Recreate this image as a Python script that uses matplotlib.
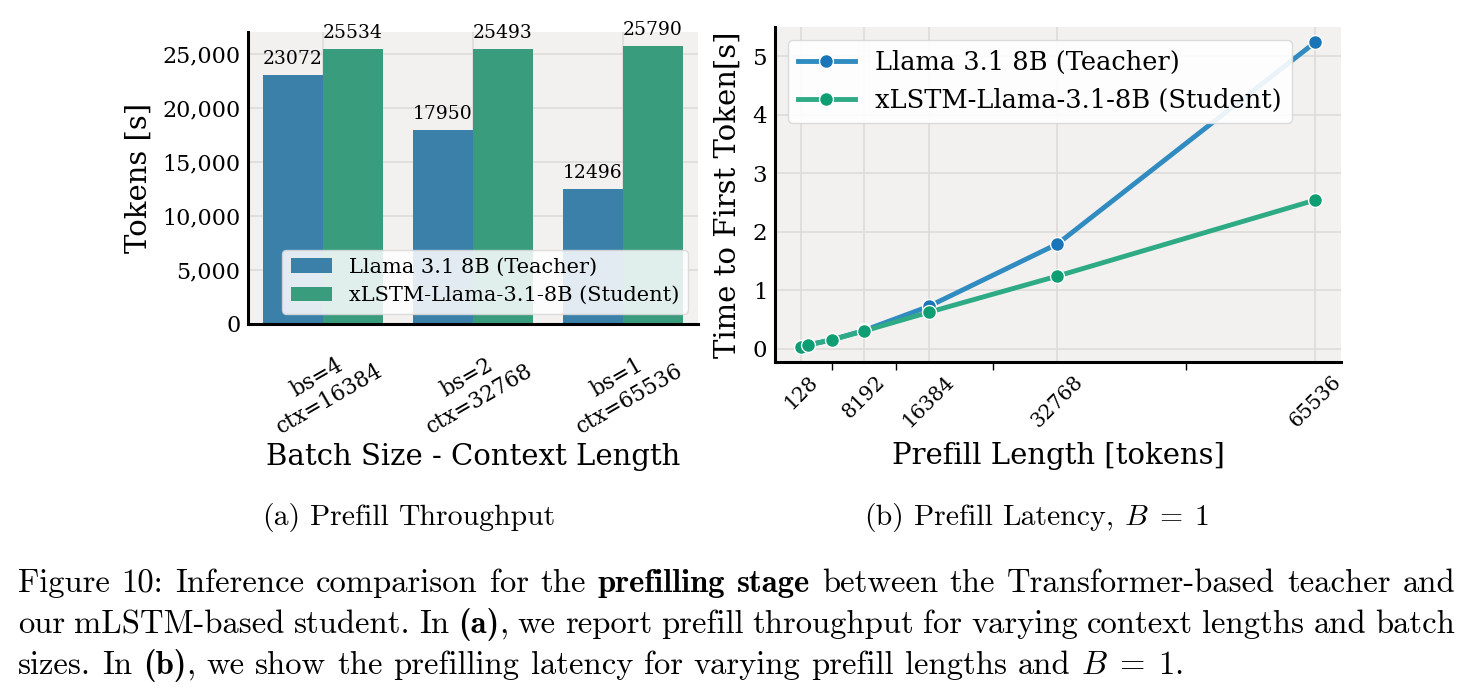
import matplotlib
matplotlib.use("Agg")
import matplotlib.pyplot as plt
from matplotlib.ticker import FuncFormatter, FixedLocator
import numpy as np

# ---------------- data ----------------
categories = ["bs=4\nctx=16384", "bs=2\nctx=32768", "bs=1\nctx=65536"]
teacher_tp = [23072, 17950, 12496]
student_tp = [25534, 25493, 25790]

prefill_len = [128, 1024, 4096, 8192, 16384, 32768, 65536]
teacher_ttft = [0.03, 0.06, 0.15, 0.31, 0.72, 1.79, 5.24]
student_ttft = [0.03, 0.06, 0.15, 0.30, 0.62, 1.24, 2.54]
xtick_vals = [128, 8192, 16384, 32768, 65536]

teacher_name = "Llama 3.1 8B (Teacher)"
student_name = "xLSTM-Llama-3.1-8B (Student)"

# ---------------- style ----------------
plt.rcParams['font.family'] = ['DejaVu Serif']
plt.rcParams['mathtext.fontset'] = 'cm'
BG = '#f2f1f0'
GRID = '#dddcdb'
bar_blue = '#3b80a8'
bar_green = '#389c7d'
line_blue = '#2f8bc0'
line_green = '#2eab85'
mk_blue = '#1a74b8'
mk_green = '#0f9e74'

W, H = 1472, 698
fig = plt.figure(figsize=(W / 100, H / 100), dpi=100)

def ax_rect(x0, y0, x1, y1):
    return [x0 / W, 1 - y1 / H, (x1 - x0) / W, (y1 - y0) / H]

# ---------------- (a) bar chart ----------------
ax1 = fig.add_axes(ax_rect(248, 32, 698, 324))
ax1.set_facecolor(BG)
x = np.arange(len(categories))
bw = 0.4
b1 = ax1.bar(x - bw / 2, teacher_tp, width=bw, color=bar_blue, label=teacher_name, zorder=2)
b2 = ax1.bar(x + bw / 2, student_tp, width=bw, color=bar_green, label=student_name, zorder=2)
ax1.bar_label(b1, padding=5, fontsize=13.5)
ax1.bar_label(b2, padding=5, fontsize=13.5)
ax1.set_xlim(-0.5, 2.5)
ax1.set_ylim(0, max(max(teacher_tp), max(student_tp)) * 1.05)
ax1.set_xticks(x)
ax1.set_xticklabels(categories, rotation=30, ha='center', fontsize=15.5)
ax1.yaxis.set_major_formatter(FuncFormatter(lambda v, p: f"{v:,.0f}"))
ax1.tick_params(axis='y', length=0, pad=5.5, labelsize=16)
ax1.tick_params(axis='x', length=0, pad=10)
ax1.grid(True, color=GRID, lw=1.2, zorder=0)
ax1.set_axisbelow(True)
for s in ['top', 'right']:
    ax1.spines[s].set_visible(False)
for s in ['left', 'bottom']:
    ax1.spines[s].set_linewidth(2.2)
    ax1.spines[s].set_color('black')
ax1.set_ylabel("Tokens [s]", fontsize=21, labelpad=7)
ax1.set_xlabel("Batch Size - Context Length", fontsize=21, labelpad=3)
leg1 = ax1.legend(loc='lower right', fontsize=15, framealpha=0.85,
                  edgecolor='#d8d8d8', labelspacing=0.45)

# ---------------- (b) line chart ----------------
ax2 = fig.add_axes(ax_rect(775, 27, 1341, 362))
ax2.set_facecolor(BG)
ax2.plot(prefill_len, teacher_ttft, color=line_blue, lw=3.5, marker='o', ms=10,
         mfc=mk_blue, mec='white', mew=1.0, label=teacher_name, zorder=3)
ax2.plot(prefill_len, student_ttft, color=line_green, lw=3.5, marker='o', ms=10,
         mfc=mk_green, mec='white', mew=1.0, label=student_name, zorder=4)
ax2.set_xticks(xtick_vals)
ax2.set_xticklabels([str(v) for v in xtick_vals], rotation=45, fontsize=14.5)
mids = [(a + b) / 2 for a, b in zip(xtick_vals[:-1], xtick_vals[1:])]
ax2.xaxis.set_minor_locator(FixedLocator(mids))
ax2.tick_params(axis='x', which='major', length=0, pad=7)
ax2.tick_params(axis='x', which='minor', length=6, width=1, color='black', direction='out')
ax2.tick_params(axis='y', length=0, pad=5.5, labelsize=16.5)
ax2.grid(True, which='major', color=GRID, lw=1.2, zorder=0)
ax2.set_axisbelow(True)
for s in ['top', 'right']:
    ax2.spines[s].set_visible(False)
for s in ['left', 'bottom']:
    ax2.spines[s].set_linewidth(2.2)
    ax2.spines[s].set_color('black')
ax2.set_ylabel("Time to First Token[s]", fontsize=21, labelpad=8)
ax2.set_xlabel("Prefill Length [tokens]", fontsize=21, labelpad=8)
leg2 = ax2.legend(loc='upper left', fontsize=18.5, framealpha=0.9,
                  edgecolor='#d8d8d8', handlelength=2.2, labelspacing=0.5)

# ---------------- captions (LaTeX-like text) ----------------
renderer = fig.canvas.get_renderer()
REG, BOLD = 'cmr10', 'cmb10'
MATH_B1 = r"$B\;=\;1$"

def measure(txt, fam, size):
    t = fig.text(0, 0, txt, family=fam, fontsize=size)
    w = t.get_window_extent(renderer).width
    t.remove()
    return w

def words_of(s, fam=REG):
    return [[(w, fam)] for w in s.split()]

line1 = (words_of("Figure 10: Inference comparison for the")
         + [[("prefilling", BOLD)], [("stage", BOLD)]]
         + words_of("between the Transformer-based teacher and"))
line2 = (words_of("our mLSTM-based student. In")
         + [[("(a)", BOLD), (",", REG)]]
         + words_of("we report prefill throughput for varying context lengths and batch"))
line3 = (words_of("sizes. In")
         + [[("(b)", BOLD), (",", REG)]]
         + words_of("we show the prefilling latency for varying prefill lengths and")
         + [[(MATH_B1, REG), (".", REG)]])
sub_a = [[("(a)", REG)], [("Prefill", REG)], [("Throughput", REG)]]
sub_b = [[("(b)", REG)], [("Prefill", REG)], [("Latency,", REG)], [(MATH_B1, REG)]]

def space_width(size):
    return measure("a b", REG, size) - measure("ab", REG, size)

def natural_width(words, size):
    tot = sum(measure(t, f, size) for word in words for t, f in word)
    return tot + space_width(size) * (len(words) - 1)

def place_line(words, y_px, x0_px, x1_px, size, justify=True):
    widths = [[measure(t, f, size) for t, f in word] for word in words]
    totals = [sum(ws) for ws in widths]
    if justify and len(words) > 1:
        gap = (x1_px - x0_px - sum(totals)) / (len(words) - 1)
    else:
        gap = space_width(size)
    xc = x0_px
    for word, ws in zip(words, widths):
        xp = xc
        for (t, f), w in zip(word, ws):
            fig.text(xp / W, 1 - y_px / H, t, family=f, fontsize=size,
                     va='baseline', ha='left')
            xp += w
        xc += sum(ws) + gap

cap_size = 20 * 1425 / natural_width(line1, 20)
sub_size = 20 * 294 / natural_width(sub_a, 20)

place_line(line1, 592.5, 18, 1455, cap_size)
place_line(line2, 633, 18, 1455, cap_size)
place_line(line3, 673.5, 18, 1455, cap_size, justify=False)

place_line(sub_a, 525, 262, 556, sub_size, justify=False)
place_line(sub_b, 525, 864, 1198, sub_size, justify=False)

fig.savefig("out.png", dpi=100, facecolor='white')
